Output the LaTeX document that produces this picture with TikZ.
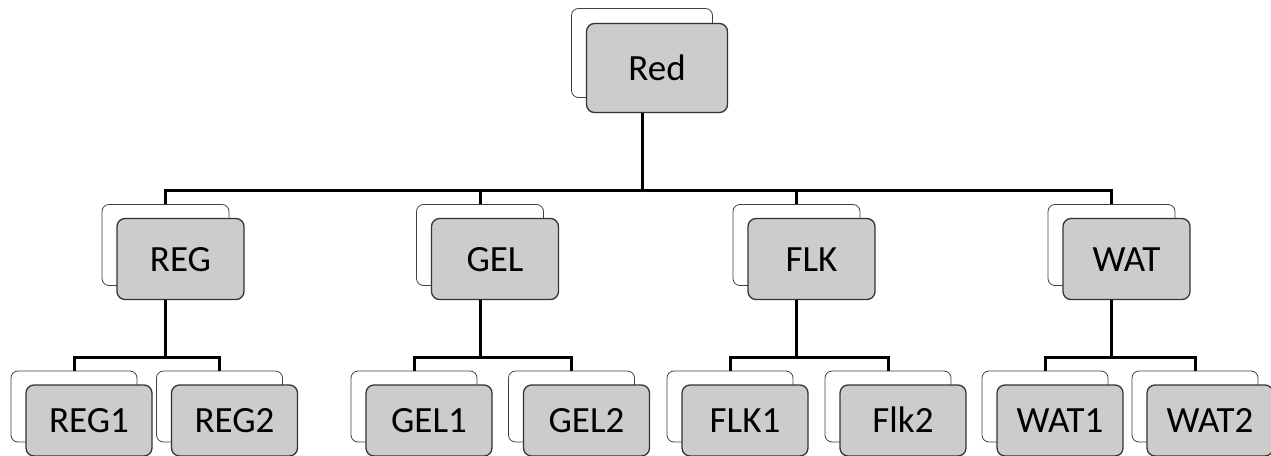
\documentclass[tikz,border=0pt]{standalone}
\usepackage{fontspec}
\setmainfont{Carlito}
\definecolor{boxgray}{HTML}{CCCCCC}
\definecolor{edgegray}{HTML}{404040}
\begin{document}
\begin{tikzpicture}[x=1pt,y=-1pt,
  backbox/.style={draw=edgegray, line width=0.8pt, fill=white, rounded corners=7pt, inner sep=0pt},
  frontbox/.style={draw=edgegray!80!black, line width=1.3pt, fill=boxgray, rounded corners=8pt, inner sep=0pt,
    font=\fontsize{37}{44}\selectfont, text height=24pt, text depth=0pt},
  topsize/.style={minimum width=141pt, minimum height=89pt},
  midsize/.style={minimum width=127pt, minimum height=81pt},
  leafsize/.style={minimum width=126pt, minimum height=71pt},
  conn/.style={line width=3pt, line join=miter}]
\useasboundingbox (0,0) rectangle (1271,455);

% bus levels of the tree
\coordinate (busA) at (0,190.5);
\coordinate (busB) at (0,357);

% root
\node[backbox, topsize] (redB) at (642,53) {};
\node[frontbox, topsize] (redF) at (657,68) {Red};

% second level
\foreach \n/\t/\x in {reg/REG/165.5, gel/GEL/480, flk/FLK/796.5, wat/WAT/1111.5}{
  \node[backbox, midsize] (\n B) at (\x,245) {};
  \node[frontbox, midsize] (\n F) at (\x+15,259) {\t};
}

% leaves
\foreach \n/\t/\x in {regA/REG1/74, regB/REG2/219.5, gelA/GEL1/414, gelB/GEL2/571.5,
                      flkA/FLK1/730, flkB/Flk2/888, watA/WAT1/1045, watB/WAT2/1195}{
  \node[backbox, leafsize] (\n B) at (\x,406.5) {};
  \node[frontbox, leafsize] (\n F) at (\x+15,420.5) {\t};
}

% root to second level
\foreach \c in {reg,gel,flk,wat}{
  \draw[conn] (redB |- redF.south) -- (redB |- busA) -| (\c B.north);
}

% second level to leaves
\foreach \p in {reg,gel,flk,wat}{
  \foreach \s in {A,B}{
    \draw[conn] (\p B |- \p F.south) -- (\p B |- busB) -| (\p\s B.north);
  }
}
\end{tikzpicture}
\end{document}
